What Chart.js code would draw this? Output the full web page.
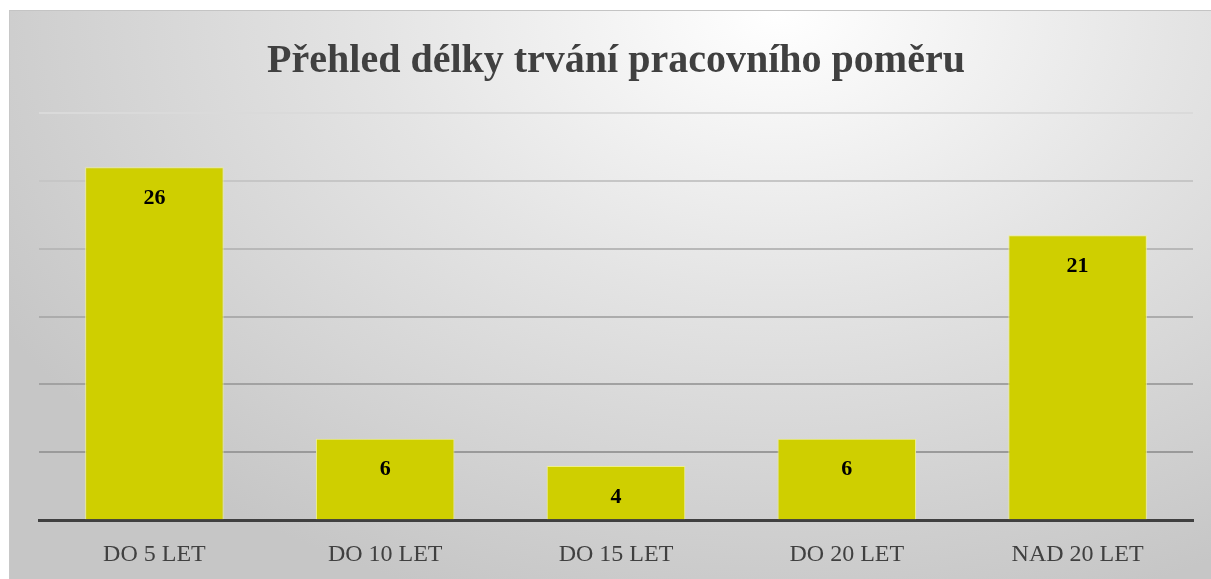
<!DOCTYPE html>
<html>
<head>
<meta charset="utf-8">
<script src="https://cdn.jsdelivr.net/npm/chart.js@4.4.1/dist/chart.umd.min.js"></script>
<style>
  html, body { margin: 0; padding: 0; background: #fff; overflow: hidden; }
  #wrap {
    position: absolute;
    left: 9px; top: 10px;
    width: 1202px; height: 571px;
    border-top: 1px solid #c4c4c4;
    border-left: 1px solid #c8c8c8;
    box-sizing: border-box;
    background: radial-gradient(ellipse 75% 110% at 64% 0%, #ffffff 0%, #e4e4e4 45%, #c6c6c6 100%);
  }
</style>
</head>
<body>
<div id="wrap"><canvas id="chart-1"></canvas></div>
<script>
// DATA
const categories = ['DO 5 LET', 'DO 10 LET', 'DO 15 LET', 'DO 20 LET', 'NAD 20 LET'];
const counts = [26, 6, 4, 6, 21];
const chartTitle = 'Přehled délky trvání pracovního poměru';

// value labels inside the top of each bar
const valueLabels = {
  id: 'valueLabels',
  afterDatasetsDraw(chart) {
    const ctx = chart.ctx;
    const meta = chart.getDatasetMeta(0);
    ctx.save();
    ctx.font = 'bold 22px "Liberation Serif"';
    ctx.fillStyle = '#000';
    ctx.textAlign = 'center';
    ctx.textBaseline = 'middle';
    meta.data.forEach((bar, i) => {
      ctx.fillText(counts[i], bar.x, bar.y + 31);
    });
    ctx.restore();
  }
};

const data = {
  labels: categories,
  datasets: [{
    data: counts,
    backgroundColor: '#cfcf00',
    borderColor: '#eef08a',
    borderWidth: 1,
    categoryPercentage: 0.6,
    barPercentage: 1
  }]
};

const config = {
  type: 'bar',
  data: data,
  options: {
    responsive: true,
    maintainAspectRatio: false,
    animation: false,
    layout: {
      padding: { left: 29, right: 18, top: 0, bottom: 0 }
    },
    plugins: {
      legend: { display: false },
      tooltip: { enabled: false },
      title: {
        display: true,
        text: chartTitle,
        color: '#404040',
        font: { family: '"Liberation Serif"', size: 40, weight: 'bold' },
        padding: { top: 27, bottom: 27 }
      }
    },
    scales: {
      x: {
        grid: { display: false },
        border: { display: true, color: '#404040', width: 3 },
        ticks: {
          color: '#404040',
          font: { family: '"Liberation Serif"', size: 24 },
          padding: 12
        }
      },
      y: {
        min: 0,
        max: 30,
        ticks: { display: false, stepSize: 5 },
        border: { display: false },
        grid: {
          drawTicks: false,
          lineWidth: 2,
          color: (c) => {
            const shades = ['rgba(0,0,0,0)', '#9a9a9a', '#a2a2a2', '#acacac', '#b8b8b8', '#c6c6c6', '#dadada'];
            return shades[c.index] || '#c0c0c0';
          }
        }
      }
    }
  },
  plugins: [valueLabels]
};

const ctx = document.getElementById('chart-1').getContext('2d');
const myChart = new Chart(ctx, config);
</script>
</body>
</html>
